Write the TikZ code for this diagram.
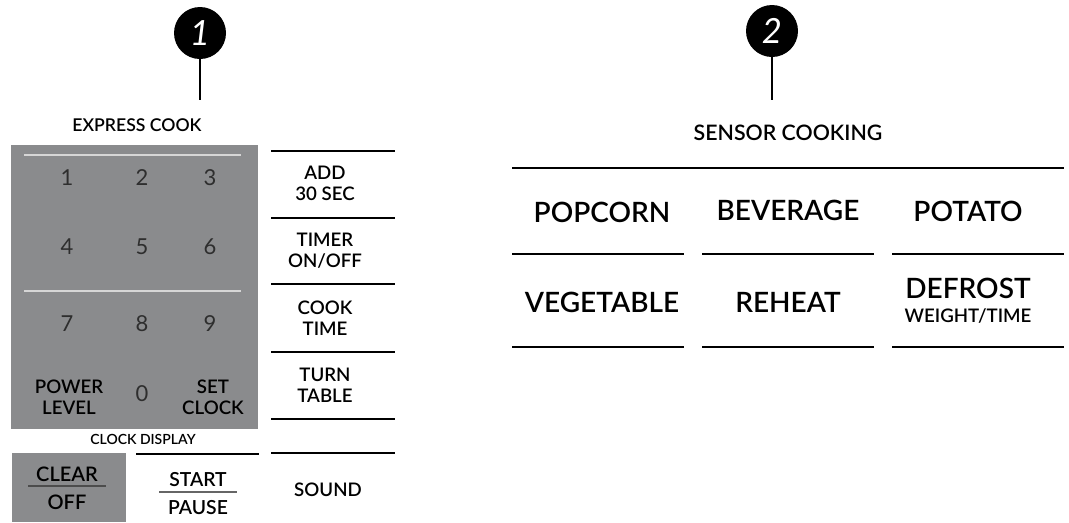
\documentclass[tikz,border=0pt]{standalone}
\usepackage{fontspec}
\setmainfont{Lato Semibold}
\newfontfamily\lightfont{Lato}
\usetikzlibrary{positioning,calc}
\usepackage{xcolor}
\definecolor{PadGray}{HTML}{8A8B8D}
\definecolor{PadLine}{HTML}{D6D6D6}
\definecolor{Digit}{HTML}{2E2E2E}
\newcommand{\PadKey}[4]{%
  \node[font=\lightfont\fontsize{16.5}{16.5}\selectfont,text=Digit] (#1) at (#2,#3) {#4};%
}

\begin{document}
\begin{tikzpicture}[x=0.75pt,y=-0.75pt,
  rule/.style={line width=2.2pt,black},
  key/.style={align=center,font=\fontsize{14}{16}\selectfont,inner sep=0pt},
  sensor/.style={align=center,font=\fontsize{21}{21}\selectfont,inner sep=0pt},
  pin/.style={circle,fill=black,text=white,minimum size=39pt,inner sep=0pt,font=\lightfont\itshape\fontsize{26}{26}\selectfont}]
\useasboundingbox (0,0) rectangle (1069,522);
% callouts
\node[pin] (pin1) at (200,33) {1};
\coordinate (pin1end) at (200,100);
\draw[line width=1.6pt] (pin1.south) -- (pin1end);
\node[pin] (pin2) at (772,31) {2};
\coordinate (pin2end) at (772,100);
\draw[line width=1.6pt] (pin2.south) -- (pin2end);
% number pad
\node[font=\fontsize{13.2}{13.2}\selectfont] (express) at (137,125) {EXPRESS COOK};
\fill[PadGray] (11,145) rectangle (258,429);
\foreach \y in {155,291} {
  \draw[PadLine,line width=2pt] (24,\y) -- (241,\y);
}
\foreach \n/\x/\y in {1/67/178,2/142/178,3/210/178,4/67/247,5/142/247,6/210/247,7/67/324,8/142/324,9/210/324,0/142/394} {
  \PadKey{key\n}{\x}{\y}{\n}
}
\node[key] (power) at (69,397) {POWER\\LEVEL};
\node[key] (setclock) at (213,397) {SET\\CLOCK};
\node[font=\fontsize{10.5}{10.5}\selectfont] (clockdisp) at (143,439) {CLOCK DISPLAY};
% clear / start
\fill[PadGray] (12,453) rectangle (126,522);
\node[key,font=\fontsize{15}{15}\selectfont] (clear) at (67,474) {CLEAR};
\draw[black!70,line width=1pt] (28,486) -- (106,486);
\node[key,font=\fontsize{15}{15}\selectfont] (off) at (67,502) {OFF};
\draw[rule] (136,454) -- (259,454);
\node[key,font=\fontsize{14.5}{14.5}\selectfont] (start) at (198,480) {START};
\draw[black!60,line width=1pt] (159,492) -- (237,492);
\node[key,font=\fontsize{14.5}{14.5}\selectfont] (pause) at (198,508) {PAUSE};
% right column
\foreach \y in {151,218,284,352,419,453} {
  \draw[rule] (271,\y) -- (395,\y);
}
\node[key] (add) at (325,183.5) {ADD\\30 SEC};
\node[key] (timer) at (325,251) {TIMER\\ON/OFF};
\node[key] (cooktime) at (325,318) {COOK\\TIME};
\node[key] (turntable) at (325,385.5) {TURN\\TABLE};
\node[key] (sound) at (328,490) {SOUND};
% sensor cooking
\node[font=\fontsize{16}{16}\selectfont] (sensorhead) at (788,133) {SENSOR COOKING};
\draw[rule] (512,168) -- (1064,168);
\foreach \y in {254,347} {
  \foreach \a/\b in {512/684,702/874,892/1064} {
    \draw[rule] (\a,\y) -- (\b,\y);
  }
}
\node[sensor] (popcorn) at (602,212) {POPCORN};
\node[sensor] (beverage) at (788,210) {BEVERAGE};
\node[sensor] (potato) at (968,211) {POTATO};
\node[sensor] (vegetable) at (602,302) {VEGETABLE};
\node[sensor] (reheat) at (788,302) {REHEAT};
\node[sensor] (defrost) at (968,288) {DEFROST};
\node[font=\fontsize{14}{14}\selectfont,inner sep=0pt] (weight) at (968,316) {WEIGHT/TIME};
\end{tikzpicture}
\end{document}
